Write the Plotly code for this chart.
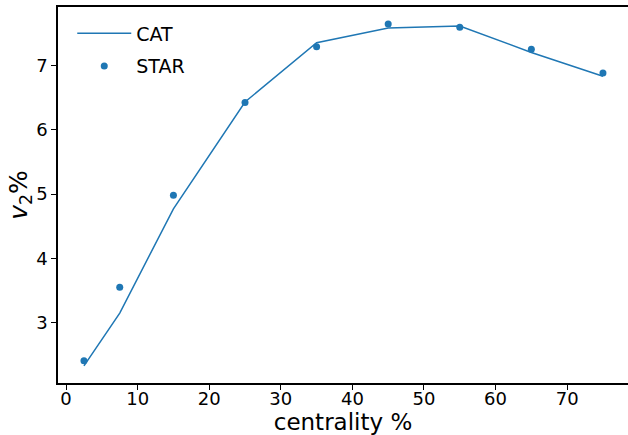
import plotly.graph_objects as go

centrality = [2.5, 7.5, 15, 25, 35, 45, 55, 65, 75]
cat_v2 = [2.33, 3.15, 4.77, 6.43, 7.35, 7.58, 7.61, 7.20, 6.83]
star_v2 = [2.41, 3.55, 4.98, 6.42, 7.29, 7.64, 7.59, 7.25, 6.88]
x_ticks = [0, 10, 20, 30, 40, 50, 60, 70]
y_ticks = [3, 4, 5, 6, 7]

blue = "#1f77b4"
font = "DejaVu Sans"

fig = go.Figure()
fig.add_trace(go.Scatter(x=centrality, y=cat_v2, mode="lines", name="CAT",
                         legendgroup="a",
                         line=dict(color=blue, width=1.5)))
fig.add_trace(go.Scatter(x=centrality, y=star_v2, mode="markers", name="STAR",
                         legendgroup="b",
                         marker=dict(color=blue, size=7)))

fig.update_layout(
    width=628, height=435,
    margin=dict(l=58, r=0, t=7, b=52, autoexpand=False),
    paper_bgcolor="white", plot_bgcolor="white",
    font=dict(family=font, color="black", size=18),
    showlegend=True,
    legend=dict(x=0.025, y=0.98, xanchor="left", yanchor="top",
                font=dict(size=19, family=font), bgcolor="rgba(0,0,0,0)",
                itemwidth=54, tracegroupgap=5),
    xaxis=dict(range=[-1.125, 78.5], tickvals=x_ticks, showgrid=False,
               zeroline=False, showline=True, linecolor="black", linewidth=1.5,
               mirror=True, ticks="outside", ticklen=5, tickwidth=1.2,
               tickcolor="black", tickfont=dict(size=18), automargin=False,
               ticklabelstandoff=-6,
               title=dict(text="centrality %", font=dict(size=23), standoff=5)),
    yaxis=dict(range=[2.063, 7.906], tickvals=y_ticks, showgrid=False,
               zeroline=False, showline=True, linecolor="black", linewidth=1.5,
               mirror=False, ticks="outside", ticklen=5, tickwidth=1.2,
               tickcolor="black", tickfont=dict(size=18), automargin=False,
               title=dict(text="<i>v</i><sub>2</sub>%", font=dict(size=25), standoff=1)),
)

fig.write_html("out.html", post_script="document.body.style.margin='0';",
               config={"displayModeBar": False})
